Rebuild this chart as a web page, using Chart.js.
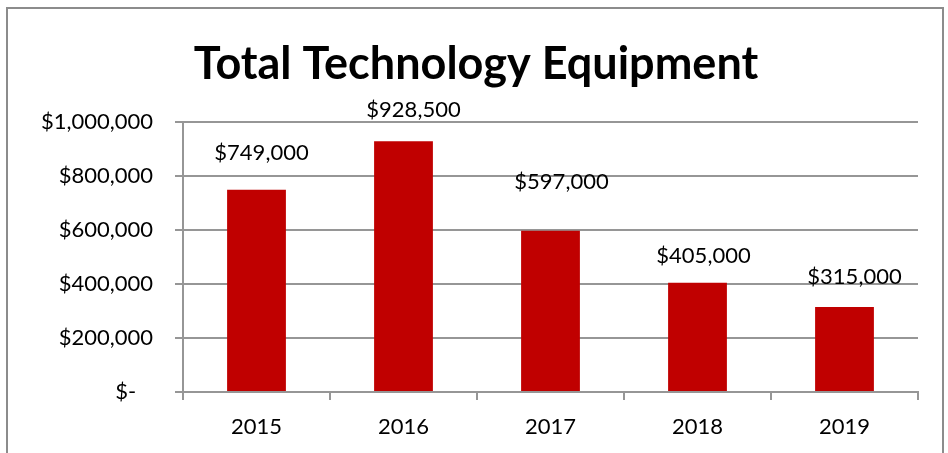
<!DOCTYPE html>
<html lang="en">
<head>
    <meta charset="UTF-8">
    <title>Total Technology Equipment</title>
    <style>
        body { margin: 0; background: white; overflow: hidden; }
        .frame { position: absolute; left: 6px; top: 7px; width: 934px; height: 480px; border: 2px solid #8c8c8c; }
        canvas { position: absolute; left: 0; top: 0; }
    </style>
    <script src="https://cdn.jsdelivr.net/npm/chart.js"></script>
</head>
<body>
    <div class="frame"></div>
    <canvas id="techChart" width="948" height="453"></canvas>

    <script>
        const years = ['2015', '2016', '2017', '2018', '2019'];
        const totals = [749000, 928500, 597000, 405000, 315000];
        const yTicks = [0, 200000, 400000, 600000, 800000, 1000000];

        const FONT = 'Lato, "Liberation Sans", sans-serif';
        const GRID = '#969696';

        function money(v) {
            if (v === 0) return '$-   ';
            return '$' + v.toLocaleString('en-US');
        }

        // labels sit a little off the bars, like the Excel original
        const barLabels = {
            id: 'barLabels',
            afterDatasetsDraw(chart, args, opts) {
                const ctx = chart.ctx;
                const meta = chart.getDatasetMeta(0);
                ctx.save();
                ctx.font = '22px ' + FONT;
                ctx.fillStyle = '#000';
                ctx.textAlign = 'center';
                ctx.textBaseline = 'middle';
                meta.data.forEach((bar, i) => {
                    const s = opts.shift[i];
                    ctx.fillText(money(totals[i]), bar.x + s[0], bar.y - s[1]);
                });
                ctx.restore();
            }
        };

        const ctx = document.getElementById('techChart').getContext('2d');
        new Chart(ctx, {
            type: 'bar',
            data: {
                labels: years,
                datasets: [{
                    data: totals,
                    backgroundColor: '#C00000',
                    barPercentage: 0.4,
                    categoryPercentage: 1.0
                }]
            },
            options: {
                responsive: false,
                animation: false,
                layout: { padding: { left: 34, right: 30, top: 0, bottom: 0 } },
                plugins: {
                    legend: { display: false },
                    tooltip: { enabled: false },
                    title: {
                        display: true,
                        text: 'Total Technology Equipment',
                        color: '#000',
                        font: { family: FONT, size: 45, weight: 'bold' },
                        padding: { top: 37.8, bottom: 30.2 }
                    },
                    barLabels: {
                        shift: [[5, 37], [10, 31], [11, 49], [6, 27], [10, 30]]
                    }
                },
                scales: {
                    x: {
                        afterFit(scale) { scale.height = 61; },
                        grid: { display: true, drawOnChartArea: false, color: GRID, lineWidth: 2, tickLength: 8 },
                        border: { display: true, color: GRID, width: 2 },
                        ticks: { color: '#000', font: { family: FONT, size: 22 }, padding: 14 }
                    },
                    y: {
                        min: 0,
                        max: 1000000,
                        afterFit(scale) { scale.width = 149; },
                        afterBuildTicks(scale) { scale.ticks = yTicks.map(v => ({ value: v })); },
                        grid: { color: GRID, lineWidth: 2, tickLength: 8 },
                        border: { display: true, color: GRID, width: 2 },
                        ticks: {
                            color: '#000',
                            font: { family: FONT, size: 22 },
                            padding: 22,
                            callback: v => money(v)
                        }
                    }
                }
            },
            plugins: [barLabels]
        });
    </script>
</body>
</html>
